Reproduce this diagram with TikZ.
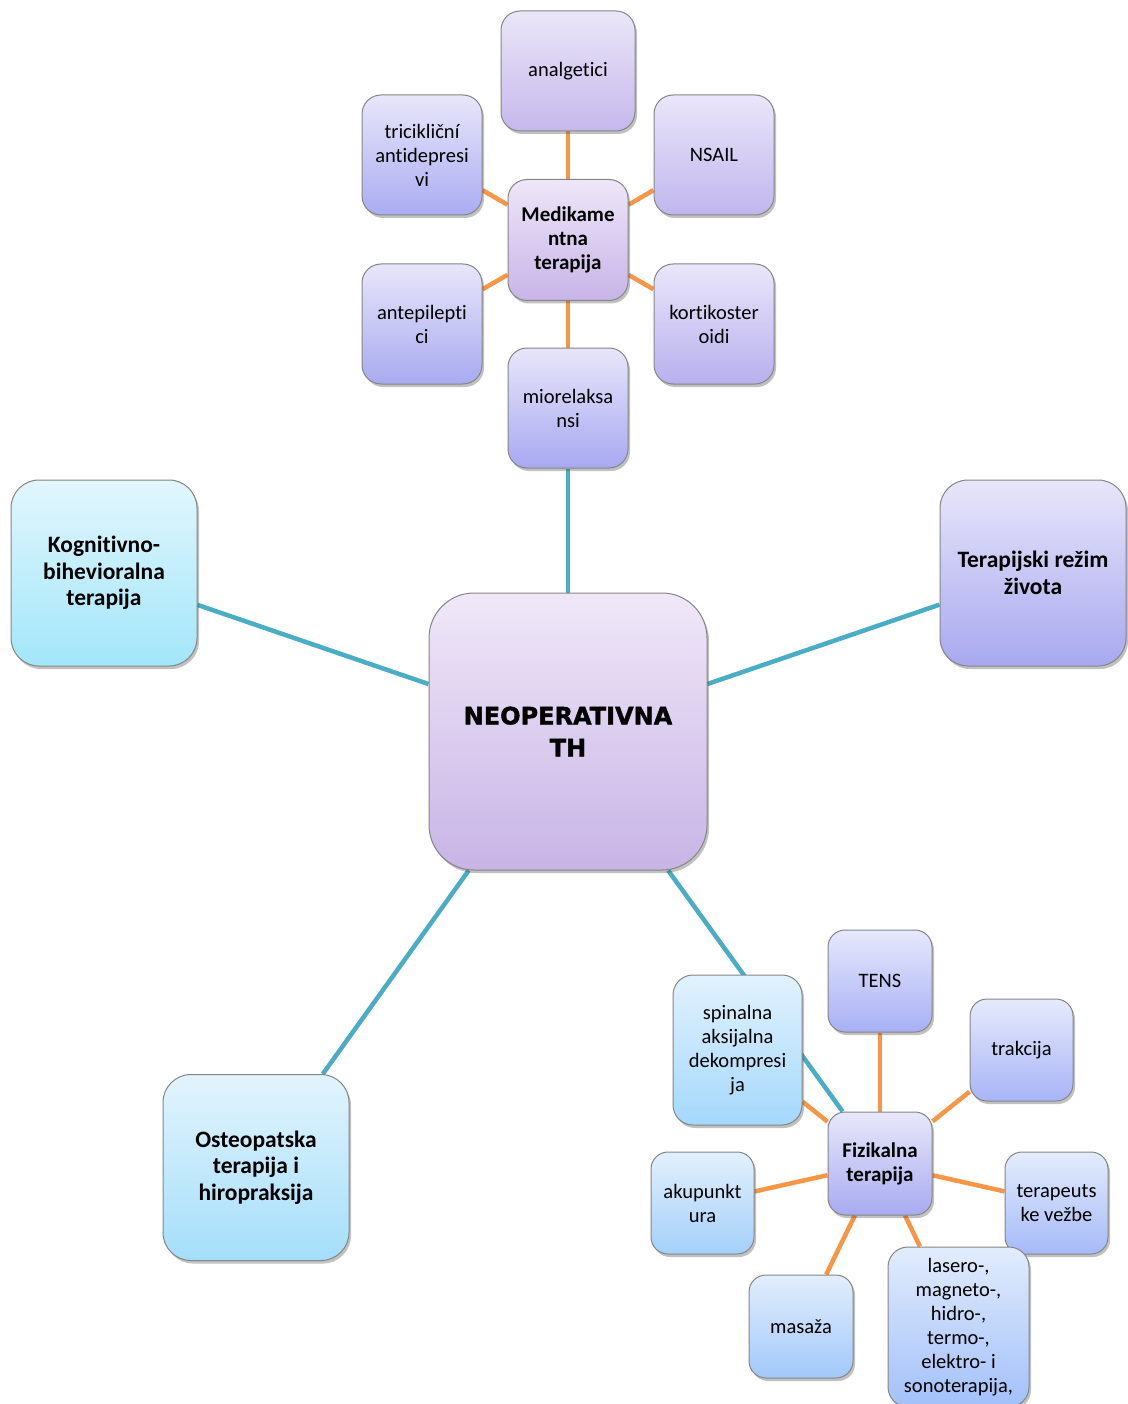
\documentclass[tikz,border=0pt]{standalone}
\usepackage{fontspec}
\setmainfont{Carlito}[Ligatures=NoCommon]
\newfontfamily\heavyfont{DejaVu Sans}[BoldFeatures={FakeBold=1.5}]
\usetikzlibrary{shadows,backgrounds}
\definecolor{orangeln}{HTML}{F79646}
\definecolor{tealln}{HTML}{4BACC6}
\definecolor{bordc}{HTML}{858585}
\tikzset{
  box/.style={draw=bordc, line width=1pt, inner sep=2pt, align=center,
    drop shadow={shadow xshift=2pt, shadow yshift=-3pt, opacity=0.35, fill=black!70}},
  sbox/.style={box, rounded corners=19pt, minimum width=#1, font=\fontsize{20.5}{24}\selectfont},
  lbox/.style={box, rounded corners=28pt, minimum width=186pt, minimum height=186pt, font=\fontsize{23.5}{26.5}\selectfont\bfseries},
  oline/.style={draw=orangeln, line width=4.5pt},
  tline/.style={draw=tealln, line width=4.5pt},
}
\begin{document}
\begin{tikzpicture}[x=1pt,y=-1pt]
\useasboundingbox (0,0) rectangle (1127,1404);
% central node
\node[box, rounded corners=45pt, minimum width=278pt, minimum height=277pt, top color={rgb,255:red,240;green,232;blue,248}, bottom color={rgb,255:red,200;green,180;blue,230}, font=\heavyfont\fontsize{24}{32}\selectfont\bfseries] (neo) at (568,731.5) {NEOPERATIVNA\\TH};
% large side nodes
\node[lbox, top color={rgb,255:red,226;green,246;blue,253}, bottom color={rgb,255:red,162;green,230;blue,250}] (kog) at (104,573) {Kognitivno-\\bihevioralna\\terapija};
\node[lbox, top color={rgb,255:red,232;green,230;blue,250}, bottom color={rgb,255:red,168;green,168;blue,240}] (rez) at (1033,573) {Terapijski režim\\života};
\node[lbox, top color={rgb,255:red,226;green,244;blue,253}, bottom color={rgb,255:red,164;green,222;blue,250}] (ost) at (256,1167.5) {Osteopatska\\terapija i\\hiropraksija};
% medication cluster
\node[sbox=120pt, minimum height=121pt, font=\fontsize{21}{24}\selectfont\bfseries, top color={rgb,255:red,238;green,230;blue,248}, bottom color={rgb,255:red,200;green,180;blue,232}] (med) at (568,240) {Medikame\\ntna\\terapija};
\node[sbox=134pt, minimum height=120pt, top color={rgb,255:red,234;green,230;blue,248}, bottom color={rgb,255:red,198;green,184;blue,236}] (ana) at (568,71) {analgetici};
\node[sbox=120pt, minimum height=120pt, top color={rgb,255:red,232;green,230;blue,250}, bottom color={rgb,255:red,170;green,172;blue,242}] (tri) at (422,155) {tricikliční\\antidepresi\\vi};
\node[sbox=120pt, minimum height=120pt, top color={rgb,255:red,234;green,230;blue,250}, bottom color={rgb,255:red,192;green,182;blue,238}] (nsa) at (714,155) {NSAIL};
\node[sbox=120pt, minimum height=120pt, top color={rgb,255:red,232;green,230;blue,250}, bottom color={rgb,255:red,168;green,170;blue,240}] (ant) at (422,324) {antepilepti\\ci};
\node[sbox=120pt, minimum height=120pt, top color={rgb,255:red,234;green,230;blue,250}, bottom color={rgb,255:red,184;green,176;blue,238}] (kor) at (714,324) {kortikoster\\oidi};
\node[sbox=120pt, minimum height=120pt, top color={rgb,255:red,232;green,230;blue,250}, bottom color={rgb,255:red,168;green,168;blue,242}] (mio) at (568,408) {miorelaksa\\nsi};
% physical therapy cluster
\node[sbox=104pt, minimum height=103pt, rounded corners=17pt, font=\fontsize{21}{24}\selectfont\bfseries, top color={rgb,255:red,232;green,232;blue,250}, bottom color={rgb,255:red,168;green,170;blue,240}] (fiz) at (880,1163.5) {Fizikalna\\terapija};
\node[sbox=104pt, minimum height=102pt, rounded corners=17pt, top color={rgb,255:red,230;green,232;blue,252}, bottom color={rgb,255:red,168;green,176;blue,244}] (tens) at (880,981) {TENS};
\node[sbox=103pt, minimum height=102pt, rounded corners=17pt, top color={rgb,255:red,230;green,234;blue,252}, bottom color={rgb,255:red,168;green,180;blue,246}] (trak) at (1021.5,1050) {trakcija};
\node[sbox=103pt, minimum height=102pt, rounded corners=17pt, top color={rgb,255:red,228;green,236;blue,252}, bottom color={rgb,255:red,166;green,186;blue,248}] (vez) at (1056.5,1203) {terapeuts\\ke vežbe};
\node[sbox=141pt, minimum height=160pt, rounded corners=20pt, top color={rgb,255:red,226;green,236;blue,252}, bottom color={rgb,255:red,162;green,192;blue,250}] (las) at (958.5,1327) {lasero-,\\magneto-,\\hidro-,\\termo-,\\elektro- i\\sonoterapija,};
\node[sbox=104pt, minimum height=103pt, rounded corners=17pt, top color={rgb,255:red,226;green,238;blue,252}, bottom color={rgb,255:red,162;green,200;blue,250}] (mas) at (801,1326.5) {masaža};
\node[sbox=103pt, minimum height=102pt, rounded corners=17pt, top color={rgb,255:red,226;green,240;blue,252}, bottom color={rgb,255:red,164;green,208;blue,250}] (aku) at (702.5,1203) {akupunkt\\ura};
\node[sbox=129pt, minimum height=150pt, rounded corners=20pt, top color={rgb,255:red,226;green,242;blue,253}, bottom color={rgb,255:red,164;green,216;blue,252}] (spi) at (737.5,1050) {spinalna\\aksijalna\\dekompresi\\ja};
% connectors
\begin{pgfonlayer}{background}
\draw[tline] (neo) -- (mio);
\draw[tline] (neo) -- (kog);
\draw[tline] (neo) -- (rez);
\draw[tline] (neo) -- (ost);
\draw[tline] (neo) -- (fiz);
\draw[oline] (med) -- (ana);
\draw[oline] (med) -- (tri);
\draw[oline] (med) -- (nsa);
\draw[oline] (med) -- (ant);
\draw[oline] (med) -- (kor);
\draw[oline] (med) -- (mio);
\draw[oline] (fiz) -- (tens);
\draw[oline] (fiz) -- (trak);
\draw[oline] (fiz) -- (vez);
\draw[oline] (fiz) -- (las);
\draw[oline] (fiz) -- (mas);
\draw[oline] (fiz) -- (aku);
\draw[oline] (fiz) -- (spi);
\end{pgfonlayer}
\end{tikzpicture}
\end{document}
